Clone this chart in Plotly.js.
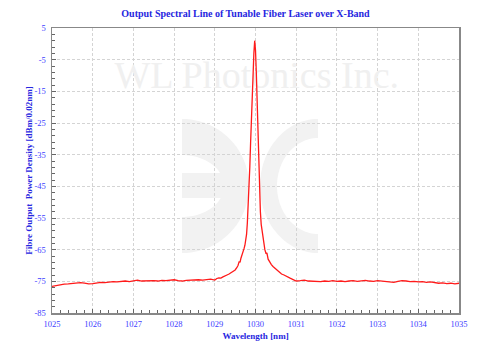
<!DOCTYPE html>
<html>
<head>
<meta charset="utf-8">
<script src="https://cdn.plot.ly/plotly-3.0.1.min.js"></script>
<style>html,body{margin:0;padding:0;background:#fff;}#chart{width:491px;height:361px;}</style>
</head>
<body>
<div id="chart"></div>
<script>
// ---- data ----
var wavelength_nm = [
 1025.0,1025.1,1025.2,1025.3,1025.4,1025.5,1025.6,1025.7,1025.8,1025.9,
 1026.0,1026.1,1026.2,1026.3,1026.4,1026.5,1026.6,1026.7,1026.8,1026.9,
 1027.0,1027.1,1027.2,1027.3,1027.4,1027.5,1027.6,1027.7,1027.8,1027.9,
 1028.0,1028.1,1028.2,1028.3,1028.4,1028.5,1028.6,1028.7,1028.8,1028.9,
 1029.0,1029.05,1029.10,1029.15,1029.20,1029.25,1029.30,1029.35,1029.40,1029.45,
 1029.50,1029.54,1029.57,1029.60,1029.62,1029.64,1029.66,1029.68,1029.70,1029.72,
 1029.74,1029.76,1029.78,1029.80,1029.82,1029.84,1029.86,1029.88,1029.90,1029.92,
 1029.94,1029.96,1029.98,1030.00,1030.02,1030.04,1030.06,1030.08,1030.10,1030.12,
 1030.14,1030.17,1030.20,1030.23,1030.26,1030.28,1030.31,1030.35,1030.39,1030.43,
 1030.48,1030.52,1030.56,1030.60,1030.64,1030.70,1030.75,1030.80,1030.85,1030.90,
 1030.95,1031.00,
 1031.1,1031.2,1031.3,1031.4,1031.5,1031.6,1031.7,1031.8,1031.9,
 1032.0,1032.1,1032.2,1032.3,1032.4,1032.5,1032.6,1032.7,1032.8,1032.9,
 1033.0,1033.1,1033.2,1033.3,1033.4,1033.5,1033.6,1033.7,1033.8,1033.9,
 1034.0,1034.1,1034.2,1034.3,1034.4,1034.5,1034.6,1034.7,1034.8,1034.9,
 1035.0
];
var power_dbm = [
 -76.6,-76.3,-76.1,-75.9,-75.8,-75.6,-75.5,-75.4,-75.6,-75.8,
 -75.7,-75.5,-75.3,-75.4,-75.2,-75.1,-75.2,-75.0,-74.9,-75.1,
 -74.8,-74.6,-74.9,-74.8,-74.9,-74.8,-74.9,-74.7,-74.8,-74.6,
 -74.5,-74.8,-74.9,-74.7,-74.6,-74.7,-74.5,-74.6,-74.4,-74.3,
 -74.6,-74.1,-73.9,-74.0,-73.6,-73.4,-73.0,-72.7,-72.3,-71.9,
 -71.4,-70.7,-70.0,-68.7,-69.0,-67.8,-67.1,-66.4,-65.5,-64.6,
 -63.6,-62.2,-60.2,-56.5,-52.0,-46.0,-39.0,-31.0,-23.0,-16.0,
 -9.0,-3.0,1.0,-2.0,-9.0,-19.0,-28.0,-38.0,-47.0,-53.0,
 -57.0,-60.0,-62.6,-65.0,-66.3,-66.0,-68.0,-69.0,-69.7,-70.3,
 -70.9,-71.3,-71.8,-72.1,-72.7,-73.0,-73.4,-73.6,-74.0,-74.3,
 -74.7,-74.9,
 -74.8,-74.6,-74.9,-75.0,-74.9,-75.1,-74.9,-75.0,-74.8,
 -75.0,-74.9,-75.1,-74.9,-74.8,-75.0,-74.9,-74.7,-74.9,-75.0,
 -74.8,-74.9,-75.0,-75.2,-75.3,-75.0,-74.8,-74.9,-75.1,-75.0,
 -75.2,-75.1,-75.3,-75.2,-75.4,-75.6,-75.5,-75.7,-75.6,-75.8,
 -75.6
];
var yTickValues = [5, -5, -15, -25, -35, -45, -55, -65, -75, -85];
var yTickLabels = ["5", "-5", "-15", "-25", "-35", "-45", "-55", "-65", "-75", "-85"];
var chartTitle = "Output Spectral Line of Tunable Fiber Laser over X-Band";
var xTitle = "Wavelength [nm]";
var yTitle = "Fibre Output\u00a0 Power Density [dBm/0.02nm]";
var watermarkText = "WL Photonics Inc.";

// ---- layout geometry ----
var W = 491, H = 361;
var M = {l: 52, r: 32, t: 28, b: 48};
var plotW = W - M.l - M.r, plotH = H - M.t - M.b;
function px2paper(px, py) { return [(px - M.l) / plotW, (H - M.b - py) / plotH]; }
function ellipsePath(cx, cy, rx, ry, a0, a1, n) {
  var pts = [];
  for (var i = 0; i <= n; i++) {
    var a = a0 + (a1 - a0) * i / n;
    pts.push(px2paper(cx + rx * Math.cos(a), cy + ry * Math.sin(a)));
  }
  return pts;
}
function polyToPath(pts) {
  return 'M' + pts.map(function (p) { return p[0].toFixed(4) + ',' + p[1].toFixed(4); }).join(' L') + ' Z';
}
var logoGray = '#f2f2f2';
var shapes = [];
// left "Э" part: right half-ring + middle bar
shapes.push({type: 'path', xref: 'paper', yref: 'paper', layer: 'below', line: {width: 0}, fillcolor: logoGray,
  path: polyToPath(ellipsePath(182, 186, 67, 67, -Math.PI / 2, Math.PI / 2, 60))});
shapes.push({type: 'path', xref: 'paper', yref: 'paper', layer: 'below', line: {width: 0}, fillcolor: '#ffffff',
  path: polyToPath(ellipsePath(182, 186, 42, 31, -Math.PI / 2, Math.PI / 2, 60))});
var b1 = px2paper(182, 173), b2 = px2paper(236, 198);
shapes.push({type: 'rect', xref: 'paper', yref: 'paper', layer: 'below', line: {width: 0}, fillcolor: logoGray,
  x0: b1[0], y0: b1[1], x1: b2[0], y1: b2[1]});
// right "C" part: left half-ring
shapes.push({type: 'path', xref: 'paper', yref: 'paper', layer: 'below', line: {width: 0}, fillcolor: logoGray,
  path: polyToPath(ellipsePath(318, 186, 58, 67, Math.PI / 2, 3 * Math.PI / 2, 60))});
shapes.push({type: 'path', xref: 'paper', yref: 'paper', layer: 'below', line: {width: 0}, fillcolor: '#ffffff',
  path: polyToPath(ellipsePath(318, 186, 41, 48, Math.PI / 2, 3 * Math.PI / 2, 60))});

var blueTick = '#4040ff';
var blueTitle = '#2626e0';
var serif = 'Liberation Serif, Times New Roman, serif';

var traces = [
  {
    x: [1030.03], y: [-11], type: 'scatter', mode: 'text', text: [watermarkText],
    textposition: 'middle center', textfont: {family: serif, size: 38, color: '#f0f0f0'}, hoverinfo: 'skip', cliponaxis: false
  },
  {
    x: wavelength_nm, y: power_dbm, type: 'scatter', mode: 'lines',
    line: {color: '#ff1a1a', width: 1.3}, hoverinfo: 'skip'
  }
];

var layout = {
  width: W, height: H,
  margin: M,
  paper_bgcolor: '#ffffff',
  plot_bgcolor: 'rgba(0,0,0,0)',
  showlegend: false,
  title: {text: '<b>' + chartTitle + '</b>', font: {family: serif, size: 10, color: blueTitle},
          x: 0.5, xref: 'container', xanchor: 'center', y: 1 - 13 / H, yref: 'container', yanchor: 'middle'},
  xaxis: {
    range: [1025, 1035], tick0: 1025, dtick: 1, ticks: 'inside', ticklen: 4, tickwidth: 1, tickcolor: '#666',
    minor: {dtick: 0.2, ticks: 'inside', ticklen: 3, tickcolor: '#666', showgrid: false},
    showgrid: true, gridcolor: '#d4d4d4', griddash: '3px,2px', gridwidth: 1,
    showline: true, linecolor: '#888', linewidth: 1.5, mirror: true, zeroline: false,
    ticklabelstandoff: 2,
    tickfont: {family: serif, size: 8.5, color: blueTick},
    title: {text: '<b>' + xTitle + '</b>', font: {family: serif, size: 9, color: blueTitle}, standoff: 5}
  },
  yaxis: {
    range: [-85, 5], tickmode: 'array', tickvals: yTickValues, ticktext: yTickLabels,
    ticks: 'inside', ticklen: 4, tickwidth: 1, tickcolor: '#666',
    minor: {tick0: 5, dtick: 2, ticks: 'inside', ticklen: 3, tickcolor: '#666', showgrid: false},
    showgrid: true, gridcolor: '#d4d4d4', griddash: '3px,2px', gridwidth: 1,
    showline: true, linecolor: '#888', linewidth: 1.5, mirror: true, zeroline: false,
    ticklabelstandoff: 3,
    tickfont: {family: serif, size: 8.5, color: blueTick},
    title: {text: '<b>' + yTitle + '</b>', font: {family: serif, size: 9, color: blueTitle}, standoff: 0}
  },
  shapes: shapes
};

Plotly.newPlot('chart', traces, layout, {displayModeBar: false, staticPlot: true});
</script>
</body>
</html>
